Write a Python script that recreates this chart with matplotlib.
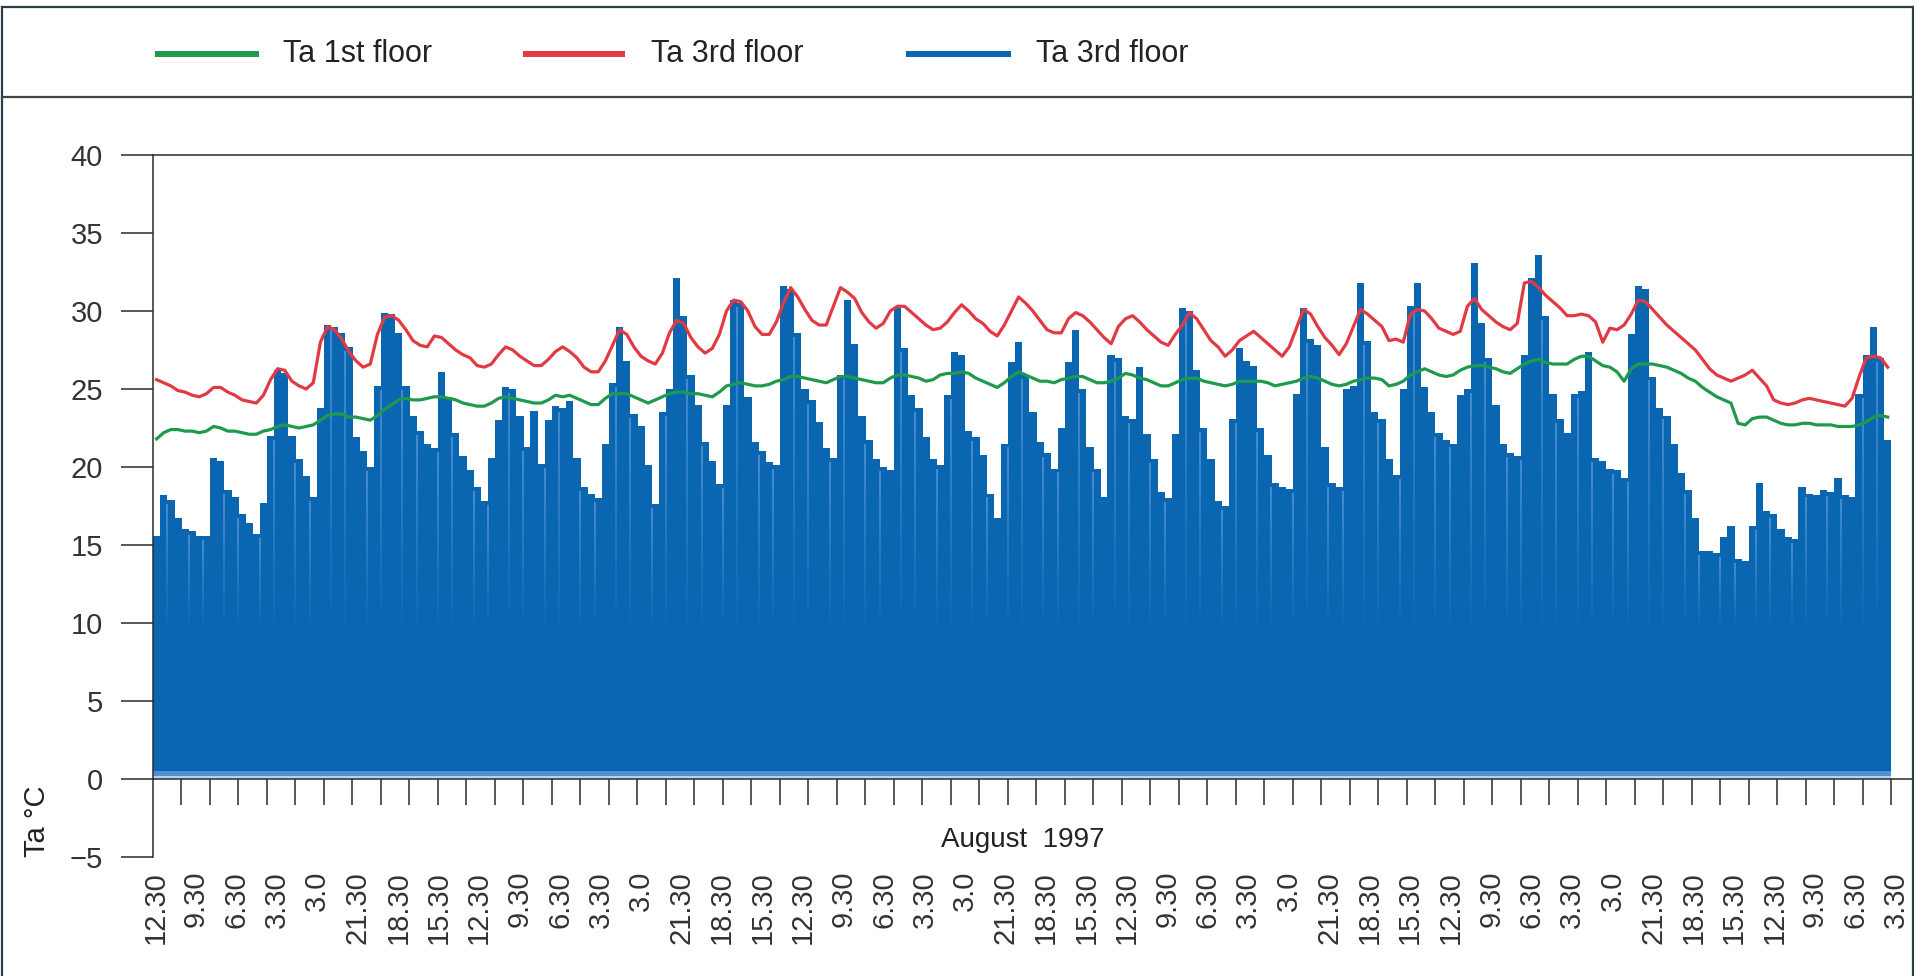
import numpy as np
import matplotlib
matplotlib.use("Agg")
import matplotlib.pyplot as plt
from matplotlib.lines import Line2D
from matplotlib.collections import LineCollection

# ---------------------------------------------------------------------------
# Data: air temperature, August 1997, one reading every 3 hours
# ---------------------------------------------------------------------------
STEP_H = 3

blue_ta_3rd = [
    15.6, 18.2, 17.9, 16.7, 16.0, 15.9, 15.6, 15.6,
    20.6, 20.4, 18.5, 18.1, 17.0, 16.4, 15.7, 17.7,
    22.0, 26.2, 26.0, 22.0, 20.5, 19.4, 18.1, 23.8,
    29.1, 29.0, 28.6, 27.7, 21.9, 21.0, 20.0, 25.2,
    29.9, 29.8, 28.6, 25.2, 23.3, 22.3, 21.5, 21.2,
    26.1, 24.5, 22.2, 20.7, 19.8, 18.7, 17.8, 20.6,
    23.0, 25.1, 25.0, 23.3, 21.3, 23.6, 20.2, 23.0,
    23.9, 23.8, 24.2, 20.6, 18.7, 18.3, 18.0, 21.5,
    25.4, 29.0, 26.8, 23.4, 22.6, 20.1, 17.6, 23.5,
    25.0, 32.1, 29.7, 25.9, 24.0, 21.6, 20.4, 18.9,
    24.0, 30.7, 30.5, 24.5, 21.6, 21.0, 20.3, 20.1,
    31.6, 31.4, 28.6, 25.0, 24.3, 22.9, 21.2, 20.6,
    25.9, 30.7, 27.9, 23.3, 21.7, 20.5, 20.0, 19.8,
    30.2, 27.6, 24.6, 23.8, 21.9, 20.5, 20.1, 24.6,
    27.4, 27.2, 22.3, 21.9, 20.8, 18.3, 16.7, 21.5,
    26.7, 28.0, 25.9, 23.5, 21.6, 20.9, 19.9, 22.5,
    26.7, 28.8, 25.0, 21.3, 19.9, 18.1, 27.2, 27.0,
    23.3, 23.1, 26.4, 22.1, 20.5, 18.4, 18.0, 22.1,
    30.2, 30.0, 26.2, 22.5, 20.5, 17.8, 17.5, 23.1,
    27.6, 26.8, 26.5, 22.5, 20.8, 19.0, 18.7, 18.6,
    24.7, 30.2, 28.2, 27.8, 21.3, 19.0, 18.7, 25.0,
    25.2, 31.8, 28.1, 23.5, 23.1, 20.5, 19.5, 25.0,
    30.3, 31.8, 25.1, 23.5, 22.2, 21.7, 21.5, 24.6,
    25.0, 33.1, 29.2, 27.0, 24.0, 21.5, 20.9, 20.7,
    27.2, 32.1, 33.6, 29.7, 24.7, 23.1, 22.2, 24.7,
    24.9, 27.4, 20.6, 20.4, 19.9, 19.8, 19.3, 28.5,
    31.6, 31.4, 25.8, 23.8, 23.3, 21.5, 19.6, 18.5,
    16.7, 14.6, 14.6, 14.5, 15.5, 16.2, 14.1, 14.0,
    16.2, 19.0, 17.2, 17.0, 16.0, 15.5, 15.4, 18.7,
    18.3, 18.2, 18.5, 18.4, 19.3, 18.2, 18.1, 24.7,
    27.2, 29.0, 27.0, 21.7,
]

red_ta_3rd = [
    25.6, 25.4, 25.2, 24.9, 24.8, 24.6, 24.5, 24.7,
    25.1, 25.1, 24.8, 24.6, 24.3, 24.2, 24.1, 24.6,
    25.6, 26.3, 26.2, 25.5, 25.2, 25.0, 25.4, 28.0,
    29.0, 28.8, 28.2, 27.4, 26.8, 26.4, 26.6, 28.5,
    29.6, 29.7, 29.4, 28.8, 28.1, 27.8, 27.7, 28.4,
    28.3, 27.9, 27.5, 27.2, 27.0, 26.5, 26.4, 26.6,
    27.2, 27.7, 27.5, 27.1, 26.8, 26.5, 26.5, 26.9,
    27.4, 27.7, 27.4, 27.0, 26.4, 26.1, 26.1, 26.8,
    27.8, 28.8, 28.5, 27.7, 27.1, 26.8, 26.6, 27.3,
    28.6, 29.4, 29.2, 28.3, 27.7, 27.3, 27.6, 28.5,
    30.0, 30.7, 30.6, 30.0, 29.0, 28.5, 28.5, 29.3,
    30.5, 31.5, 30.9, 30.1, 29.4, 29.1, 29.1, 30.3,
    31.5, 31.2, 30.8, 29.9, 29.3, 28.9, 29.2, 30.0,
    30.3, 30.3, 29.9, 29.5, 29.1, 28.8, 28.9, 29.3,
    29.9, 30.4, 30.0, 29.5, 29.2, 28.7, 28.4, 29.1,
    30.0, 30.9, 30.5, 30.0, 29.4, 28.8, 28.6, 28.6,
    29.5, 29.9, 29.7, 29.3, 28.8, 28.3, 27.9, 29.0,
    29.5, 29.7, 29.3, 28.8, 28.4, 28.0, 27.8, 28.5,
    29.1, 29.9, 29.5, 28.8, 28.1, 27.7, 27.1, 27.5,
    28.1, 28.4, 28.7, 28.3, 27.9, 27.5, 27.1, 27.7,
    28.9, 30.1, 29.8, 29.0, 28.3, 27.8, 27.2, 27.9,
    29.0, 30.1, 29.8, 29.4, 29.0, 28.1, 28.2, 28.0,
    29.8, 30.1, 30.0, 29.5, 28.9, 28.7, 28.5, 28.7,
    30.3, 30.8, 30.1, 29.7, 29.3, 29.0, 28.8, 29.2,
    31.8, 31.9, 31.5, 31.0, 30.6, 30.2, 29.7, 29.7,
    29.8, 29.7, 29.3, 28.0, 28.9, 28.8, 29.1, 29.8,
    30.7, 30.6, 30.1, 29.6, 29.1, 28.7, 28.3, 27.9,
    27.5, 26.9, 26.3, 25.9, 25.7, 25.5, 25.7, 25.9,
    26.2, 25.7, 25.2, 24.3, 24.1, 24.0, 24.1, 24.3,
    24.4, 24.3, 24.2, 24.1, 24.0, 23.9, 24.4, 25.8,
    27.0, 27.1, 27.0, 26.4,
]

green_ta_1st = [
    21.8, 22.2, 22.4, 22.4, 22.3, 22.3, 22.2, 22.3,
    22.6, 22.5, 22.3, 22.3, 22.2, 22.1, 22.1, 22.3,
    22.4, 22.6, 22.7, 22.6, 22.5, 22.6, 22.7, 23.0,
    23.3, 23.4, 23.4, 23.2, 23.2, 23.1, 23.0, 23.3,
    23.7, 24.0, 24.3, 24.4, 24.3, 24.3, 24.4, 24.5,
    24.5, 24.4, 24.3, 24.1, 24.0, 23.9, 23.9, 24.1,
    24.4, 24.5, 24.4, 24.3, 24.2, 24.1, 24.1, 24.3,
    24.6, 24.5, 24.6, 24.4, 24.2, 24.0, 24.0, 24.4,
    24.7, 24.7, 24.7, 24.5, 24.3, 24.1, 24.3, 24.5,
    24.7, 24.8, 24.8, 24.7, 24.7, 24.6, 24.5, 24.8,
    25.2, 25.3, 25.4, 25.3, 25.2, 25.2, 25.3, 25.5,
    25.6, 25.8, 25.8, 25.7, 25.6, 25.5, 25.4, 25.6,
    25.8, 25.8, 25.7, 25.6, 25.5, 25.4, 25.4, 25.7,
    25.9, 25.9, 25.8, 25.7, 25.5, 25.6, 25.9, 26.0,
    26.0, 26.1, 26.0, 25.7, 25.5, 25.3, 25.1, 25.4,
    25.8, 26.1, 25.9, 25.7, 25.5, 25.5, 25.4, 25.6,
    25.7, 25.8, 25.8, 25.6, 25.4, 25.4, 25.5, 25.7,
    26.0, 25.9, 25.7, 25.6, 25.4, 25.2, 25.2, 25.4,
    25.6, 25.7, 25.7, 25.5, 25.4, 25.3, 25.2, 25.3,
    25.5, 25.5, 25.5, 25.5, 25.4, 25.2, 25.3, 25.4,
    25.5, 25.7, 25.8, 25.7, 25.5, 25.3, 25.2, 25.3,
    25.5, 25.6, 25.7, 25.7, 25.6, 25.2, 25.3, 25.5,
    25.9, 26.1, 26.3, 26.1, 25.9, 25.8, 25.9, 26.2,
    26.4, 26.5, 26.5, 26.4, 26.3, 26.1, 26.0, 26.3,
    26.6, 26.8, 26.9, 26.7, 26.6, 26.6, 26.6, 26.9,
    27.1, 27.1, 26.8, 26.5, 26.4, 26.1, 25.5, 26.3,
    26.6, 26.6, 26.6, 26.5, 26.4, 26.2, 26.0, 25.7,
    25.5, 25.1, 24.8, 24.5, 24.3, 24.1, 22.8, 22.7,
    23.1, 23.2, 23.2, 23.0, 22.8, 22.7, 22.7, 22.8,
    22.8, 22.7, 22.7, 22.7, 22.6, 22.6, 22.6, 22.7,
    22.9, 23.2, 23.3, 23.2,
]

x_tick_labels = [
    "12.30", "9.30", "6.30", "3.30", "3.0", "21.30", "18.30", "15.30",
    "12.30", "9.30", "6.30", "3.30", "3.0", "21.30", "18.30", "15.30",
    "12.30", "9.30", "6.30", "3.30", "3.0", "21.30", "18.30", "15.30",
    "12.30", "9.30", "6.30", "3.30", "3.0", "21.30", "18.30", "15.30",
    "12.30", "9.30", "6.30", "3.30", "3.0", "21.30", "18.30", "15.30",
    "12.30", "9.30", "6.30", "3.30",
]
y_ticks = [-5, 0, 5, 10, 15, 20, 25, 30, 35, 40]
legend_labels = ["Ta 1st floor", "Ta 3rd floor", "Ta 3rd floor"]

# ---------------------------------------------------------------------------
# Style
# ---------------------------------------------------------------------------
GREEN = "#1e9a4c"
RED = "#e23a42"
BLUE = "#0a66b0"
STREAK = (0.42, 0.66, 0.90)
INK = "#2b2b2b"
FRAME = "#2a3e46"

plt.rcParams["font.family"] = ["Liberation Sans", "DejaVu Sans"]

W, H = 1915, 976


def fx(px):
    return px / W


def fy(py):
    return 1 - py / H


fig = plt.figure(figsize=(W / 100, H / 100), dpi=100)
fig.patch.set_facecolor("white")

ax = fig.add_axes([fx(153), fy(857), fx(1915) - fx(153), fy(155) - fy(857)])
ax.set_facecolor("white")

n = len(blue_ta_3rd)
t = np.arange(n) * STEP_H + STEP_H / 2

# blue bars
ax.bar(t, blue_ta_3rd, width=STEP_H * 1.04, color=BLUE, linewidth=0,
       zorder=2)

# light streaks between groups of bars, fading downward
segs, cols = [], []
vals = np.asarray(blue_ta_3rd)
for k in range(1, n):
    if k % 5 not in (0, 2):
        continue
    x = k * STEP_H
    top = min(vals[k - 1], vals[k]) - 0.25
    bottom = 9.8
    if top <= bottom + 1:
        continue
    ys = np.linspace(top, bottom, 13)
    for a in range(12):
        segs.append([(x, ys[a]), (x, ys[a + 1])])
        cols.append((*STREAK, 0.75 * (1 - a / 12)))
ax.add_collection(LineCollection(segs, colors=cols, linewidths=1.1,
                                 zorder=3))

# pale base strip of the bars
ax.fill_between([0, n * STEP_H], 0.22, 0.5, color="#4f92d2", linewidth=0,
                zorder=3)
ax.fill_between([0, n * STEP_H], 0, 0.22, color="#b4d3ef", linewidth=0,
                zorder=3)

# temperature lines
ax.plot(t, red_ta_3rd, color=RED, lw=2.3, zorder=4, solid_joinstyle="round")
ax.plot(t, green_ta_1st, color=GREEN, lw=2.3, zorder=4,
        solid_joinstyle="round")

# axes
ax.set_xlim(0, 742)
ax.set_ylim(-5, 40)
ax.spines["right"].set_visible(False)
ax.spines["bottom"].set_position(("data", 0))
for s in ("left", "top", "bottom"):
    ax.spines[s].set_linewidth(1.1)
    ax.spines[s].set_color(INK)
    ax.spines[s].set_zorder(5)

ax.set_xticks(np.arange(12, n * STEP_H + 1, 12))
ax.tick_params(axis="x", direction="out", length=18.7, width=1.1,
               color=INK, labelbottom=False)
ax.set_yticks(y_ticks)
ax.tick_params(axis="y", direction="out", length=23, width=1.1, color=INK,
               labelsize=21, labelcolor="#333333", pad=13)

# rotated time labels along the bottom
label_pos = np.linspace(1, 734, len(x_tick_labels))
sec = ax.secondary_xaxis(0)
sec.set_xticks(label_pos, labels=x_tick_labels)
sec.tick_params(length=0, pad=10, labelsize=21, labelcolor="#333333",
                labelrotation=90)
sec.spines["bottom"].set_visible(False)

fig.text(fx(1023), fy(840), "August  1997", ha="center", va="center",
         fontsize=20, color="#222222")
fig.text(fx(37), fy(821), "Ta \u00b0C", ha="center", va="center",
         rotation=90, fontsize=21, color="#222222")

# legend strip
legend_colors = [GREEN, RED, BLUE]
legend_line_x = [(155, 259), (523, 625), (906, 1011)]
legend_text_x = [283, 651, 1036]
for lab, c, (x0, x1), tx in zip(legend_labels, legend_colors, legend_line_x,
                                legend_text_x):
    fig.add_artist(Line2D([fx(x0), fx(x1)], [fy(54), fy(54)], color=c,
                          lw=4.3, solid_capstyle="butt"))
    fig.text(fx(tx), fy(54), lab, ha="left", va="center", fontsize=22,
             color="#222222")

# outer frame and separator
frame_kw = dict(color=FRAME, lw=1.6)
fig.add_artist(Line2D([fx(2), fx(1913)], [fy(7), fy(7)], **frame_kw))
fig.add_artist(Line2D([fx(2), fx(2)], [fy(7), fy(976)], **frame_kw))
fig.add_artist(Line2D([fx(1913), fx(1913)], [fy(7), fy(976)], **frame_kw))
fig.add_artist(Line2D([fx(2), fx(1913)], [fy(97), fy(97)], color="#444444",
                      lw=1.6))

fig.savefig("out.png", dpi=100, facecolor="white")
